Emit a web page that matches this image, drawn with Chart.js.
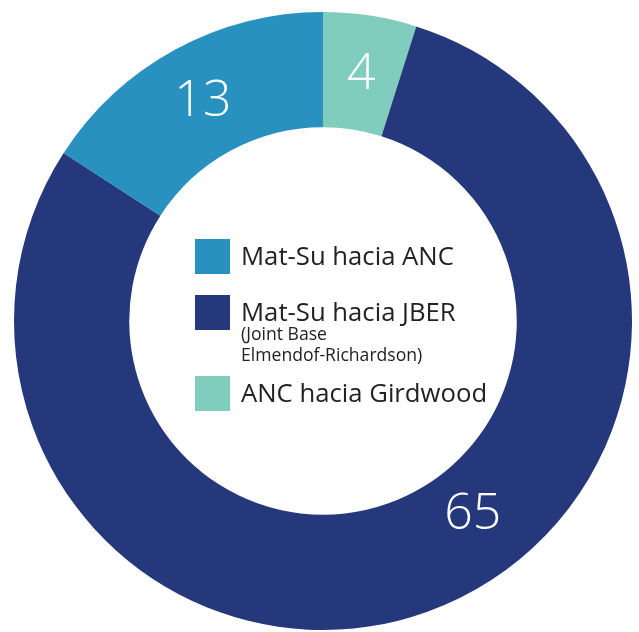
<!DOCTYPE html>
<html>
<head>
<meta charset="utf-8">
<script src="https://cdn.jsdelivr.net/npm/chart.js@4.4.1/dist/chart.umd.min.js"></script>
<style>
  html, body { margin: 0; padding: 0; background: #fff; }
  #wrap { position: relative; width: 639px; height: 632px; }
</style>
</head>
<body>
<div id="wrap"><canvas id="donut"></canvas></div>
<script>
// segments, clockwise from 12 o'clock
const categories = ['ANC hacia Girdwood', 'Mat-Su hacia JBER', 'Mat-Su hacia ANC'];
const values = [4, 65, 13];
const colors = ['#80cdbd', '#26387c', '#2891c0'];
const notes = ['', '(Joint Base\nElmendof-Richardson)', ''];

// white numbers on the ring
const valueLabels = {
    id: 'valueLabels',
    afterDatasetsDraw(chart, args, opts) {
        const ctx = chart.ctx;
        const meta = chart.getDatasetMeta(0);
        ctx.save();
        ctx.fillStyle = '#fff';
        ctx.font = '300 50px "Open Sans", Lato, sans-serif';
        ctx.textAlign = 'center';
        ctx.textBaseline = 'middle';
        meta.data.forEach((arc, i) => {
            let p = arc.getCenterPoint();
            const custom = opts.angles[i];
            if (custom !== undefined) {
                const r = (arc.innerRadius + arc.outerRadius) / 2 - 8;
                const a = (custom - 90) * Math.PI / 180;
                p = { x: arc.x + r * Math.cos(a), y: arc.y + r * Math.sin(a) };
            }
            ctx.fillText(String(values[i]), p.x, p.y + 2);
        });
        ctx.restore();
    }
};

// legend drawn inside the hole, in reverse segment order
const centerLegend = {
    id: 'centerLegend',
    afterDraw(chart) {
        const ctx = chart.ctx;
        const x0 = 195, box = 35, textX = 241;
        const rows = [239, 295, 376];
        const order = [2, 1, 0];
        ctx.save();
        ctx.textAlign = 'left';
        ctx.textBaseline = 'alphabetic';
        order.forEach((idx, k) => {
            const y = rows[k];
            ctx.fillStyle = colors[idx];
            ctx.fillRect(x0, y, box, box);
            ctx.fillStyle = '#222';
            ctx.font = '25.7px "Open Sans", sans-serif';
            ctx.fillText(categories[idx], textX, y + 26);
            if (notes[idx]) {
                ctx.font = '17.6px "Open Sans", sans-serif';
                notes[idx].split('\n').forEach((line, j) => {
                    ctx.fillText(line, textX, y + 45 + j * 21);
                });
            }
        });
        ctx.restore();
    }
};

new Chart(document.getElementById('donut'), {
    type: 'doughnut',
    data: {
        labels: categories,
        datasets: [{
            data: values,
            backgroundColor: colors,
            borderWidth: 0,
            hoverOffset: 0
        }]
    },
    options: {
        responsive: true,
        maintainAspectRatio: false,
        animation: false,
        radius: 309,
        cutout: 195,
        layout: { padding: { left: 7, top: 10, right: 0, bottom: 0 } },
        plugins: {
            legend: { display: false },
            tooltip: { enabled: false },
            valueLabels: { angles: { 1: 142 } }
        }
    },
    plugins: [valueLabels, centerLegend]
});
</script>
</body>
</html>
